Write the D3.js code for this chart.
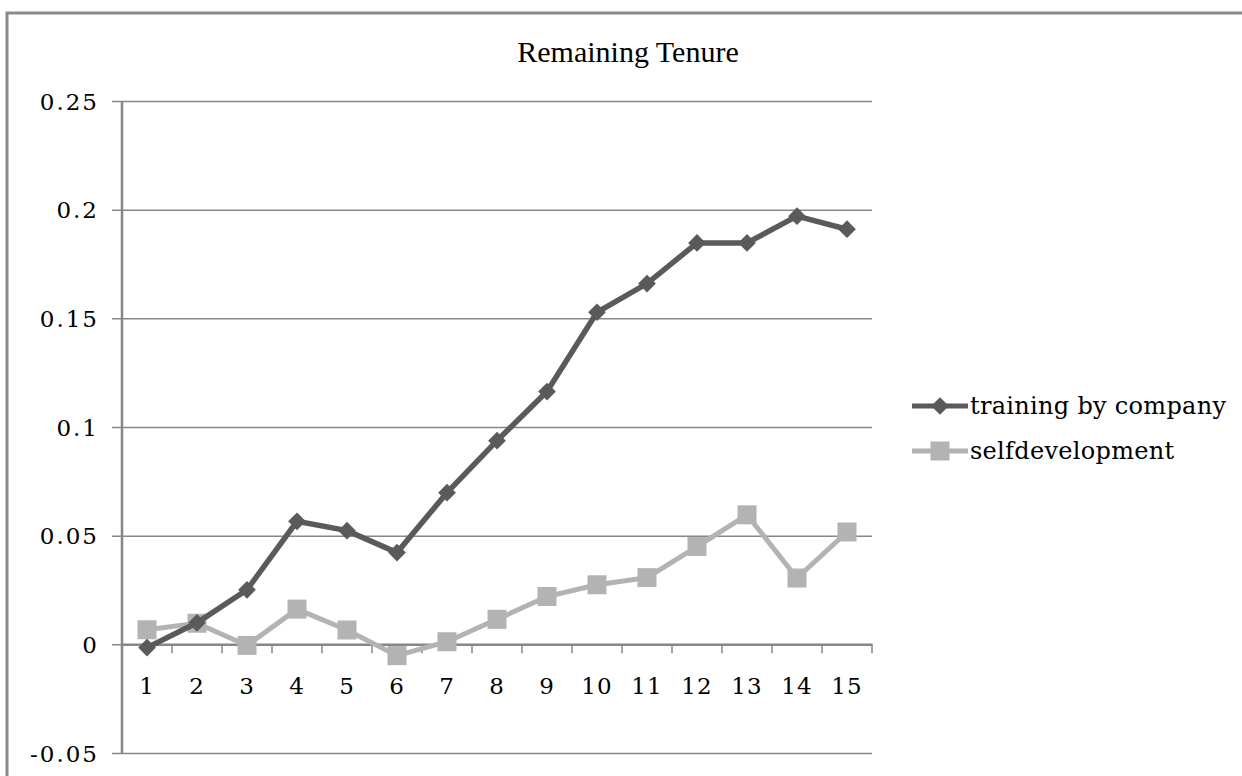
<!DOCTYPE html>
<html>
<head>
<meta charset="utf-8">
<script src="https://cdn.jsdelivr.net/npm/d3@7"></script>
<style>
  body { margin: 0; background: #fff; }
  text { font-family: "DejaVu Serif", serif; fill: #000; }
</style>
</head>
<body>
<div id="chart"></div>
<script>
// chart values
const categories = ["1","2","3","4","5","6","7","8","9","10","11","12","13","14","15"];
const trainingByCompany = [-0.0015, 0.0099, 0.0251, 0.0566, 0.0523, 0.0422, 0.0698, 0.0937, 0.1163, 0.1528, 0.1660, 0.1847, 0.1847, 0.1970, 0.1910];
const selfDevelopment = [0.0067, 0.0097, -0.0005, 0.0162, 0.0066, -0.0052, 0.0012, 0.0115, 0.0220, 0.0274, 0.0307, 0.0450, 0.0596, 0.0305, 0.0517];
const yTicks = [-0.05, 0, 0.05, 0.1, 0.15, 0.2, 0.25];
const seriesNames = ["training by company", "selfdevelopment"];

const W = 1242, H = 776;
const m = {t: 101, l: 122, r: 370, b: 23};
const w = W - m.l - m.r, h = H - m.t - m.b;

const svg = d3.select("#chart").append("svg")
    .attr("width", W).attr("height", H);

// outer chart frame
svg.append("rect")
    .attr("x", 7).attr("y", 13)
    .attr("width", 1260).attr("height", 800)
    .attr("fill", "none").attr("stroke", "#8a8a8a").attr("stroke-width", 3);

svg.append("text")
    .attr("x", 628).attr("y", 62)
    .attr("text-anchor", "middle")
    .style("font-family", "'Liberation Serif', serif")
    .style("font-size", "30px")
    .text("Remaining Tenure");

const g = svg.append("g").attr("transform", "translate(" + m.l + "," + m.t + ")");

const y = d3.scaleLinear().domain([-0.05, 0.25]).range([h, 0]);
const x = d3.scaleBand().domain(categories).range([0, w]);

// gridlines + y axis
const yAxis = g.append("g")
    .call(d3.axisLeft(y).tickValues(yTicks).tickSize(-w - 10).tickPadding(15)
        .tickFormat(d => d === 0 ? "0" : String(d)))
    .attr("transform", "translate(-10,0)");
yAxis.select(".domain").remove();
yAxis.selectAll(".tick line").attr("stroke", "#878787").attr("stroke-width", 1.5);
yAxis.selectAll(".tick text").style("font-size", "23px").style("letter-spacing", "2px")
    .attr("x", -13).attr("dy", "0.35em");

g.append("line")
    .attr("x1", 0).attr("x2", 0).attr("y1", 0).attr("y2", h)
    .attr("stroke", "#878787").attr("stroke-width", 2.5);

// x axis on zero line
const xAxis = g.append("g")
    .attr("transform", "translate(0," + y(0) + ")")
    .call(d3.axisBottom(x).tickSize(0).tickPadding(33));
xAxis.select(".domain").attr("stroke", "#878787").attr("stroke-width", 2.5);
xAxis.selectAll(".tick text").style("font-size", "23px").style("letter-spacing", "1px");
g.append("g").selectAll("line")
    .data(categories)
    .join("line")
    .attr("x1", d => x(d) + x.bandwidth()).attr("x2", d => x(d) + x.bandwidth())
    .attr("y1", y(0)).attr("y2", y(0) + 9)
    .attr("stroke", "#878787").attr("stroke-width", 1.5);

const cx = d => x(d) + x.bandwidth() / 2;
const line = d3.line().x((d, i) => cx(categories[i])).y(d => y(d));

const colors = ["#5a5a5a", "#b3b3b3"];

g.append("path").datum(selfDevelopment)
    .attr("d", line).attr("fill", "none")
    .attr("stroke", colors[1]).attr("stroke-width", 5);
g.append("g").selectAll("rect").data(selfDevelopment).join("rect")
    .attr("x", (d, i) => cx(categories[i]) - 9.5).attr("y", d => y(d) - 9.5)
    .attr("width", 19).attr("height", 19).attr("fill", colors[1]);

g.append("path").datum(trainingByCompany)
    .attr("d", line).attr("fill", "none")
    .attr("stroke", colors[0]).attr("stroke-width", 5.5);
const diamond = d3.symbol().type(d3.symbolDiamond2).size(200);
g.append("g").selectAll("path").data(trainingByCompany).join("path")
    .attr("d", diamond)
    .attr("transform", (d, i) => "translate(" + cx(categories[i]) + "," + y(d) + ")")
    .attr("fill", colors[0]);

// legend
const leg = svg.append("g").attr("transform", "translate(912,406)");
seriesNames.forEach((name, i) => {
    const row = leg.append("g").attr("transform", "translate(0," + i * 45 + ")");
    row.append("line").attr("x1", 0).attr("x2", 56)
        .attr("stroke", colors[i]).attr("stroke-width", 5);
    if (i === 0) {
        row.append("path").attr("d", diamond).attr("transform", "translate(28,0)").attr("fill", colors[0]);
    } else {
        row.append("rect").attr("x", 18.5).attr("y", -9.5).attr("width", 19).attr("height", 19).attr("fill", colors[1]);
    }
    row.append("text").attr("x", 58).attr("dy", "0.35em")
        .style("font-size", "24px").style("letter-spacing", "0.3px").text(name);
});
</script>
</body>
</html>
